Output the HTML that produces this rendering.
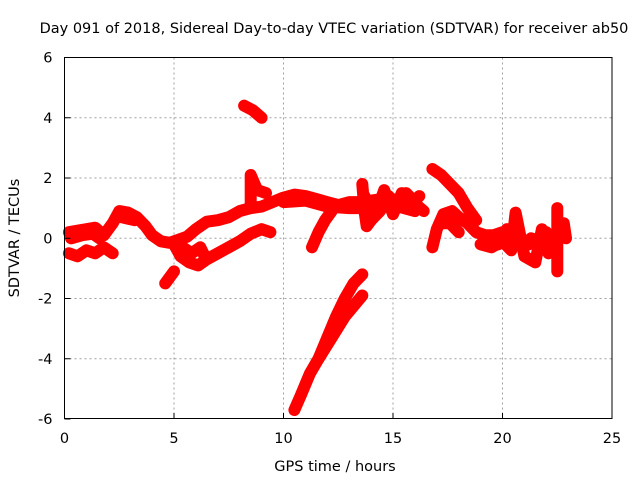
<!DOCTYPE html>
<html><head><meta charset="utf-8"><style>
html,body{margin:0;padding:0;background:#fff;}
svg{display:block;font-family:"DejaVu Sans","Liberation Sans",sans-serif;}
</style></head><body>
<svg id="chart" width="640" height="480" viewBox="0 0 640 480" xmlns="http://www.w3.org/2000/svg">
<rect width="640" height="480" fill="#fff"/>
<g id="grid"></g>
<g id="marks"></g>
<rect x="64.5" y="57.5" width="547.5" height="361" fill="none" stroke="#000" stroke-width="1"/>
<g id="ticks"></g>
<text x="334" y="33" font-size="14.5" text-anchor="middle">Day 091 of 2018, Sidereal Day-to-day VTEC variation (SDTVAR) for receiver ab50</text>
<text x="335" y="471" font-size="14.5" text-anchor="middle">GPS time / hours</text>
<text x="19" y="238" font-size="14.5" text-anchor="middle" transform="rotate(-90 19 238)">SDTVAR / TECUs</text>
</svg>
<script>
const xTicks = [0, 5, 10, 15, 20, 25];
const yTicks = [-6, -4, -2, 0, 2, 4, 6];
// tracks: each is [t0,v0,t1,v1,...] (hours, TECU)
const trackUpper = [0.2,0.2, 0.6,0.25, 1.0,0.3, 1.4,0.35, 1.8,0.1, 2.2,0.5, 2.5,0.9, 2.9,0.85, 3.3,0.7, 3.7,0.4, 4.0,0.1, 4.4,-0.1, 4.8,-0.15, 5.2,-0.05, 5.6,0.05, 6.0,0.3, 6.5,0.55, 7.0,0.6, 7.5,0.7, 8.0,0.9, 8.5,1.0, 9.0,1.05, 9.5,1.2, 10.0,1.35, 10.5,1.45, 11.0,1.4, 11.5,1.3, 12.0,1.2, 12.5,1.1, 13.0,1.2, 13.5,1.2, 14.0,1.25, 14.5,1.3, 15.0,1.3, 15.5,1.2, 16.0,1.15, 16.4,0.9];
const trackUpper2 = [0.3,0.0, 0.8,0.1, 1.3,0.15, 1.6,0.0];
const trackUpper3 = [2.6,0.7, 3.2,0.6];
const trackUpper4 = [10.0,1.2, 11.0,1.25, 12.0,1.05, 13.0,1.0, 14.0,1.0, 15.0,1.1, 16.0,0.9];
const trackLowerA = [0.2,-0.5, 0.6,-0.6, 1.0,-0.4, 1.4,-0.5, 1.8,-0.3, 2.2,-0.5];
const trackLowerB = [5.0,-0.2, 5.3,-0.6, 5.7,-0.8, 6.1,-0.9, 6.5,-0.7, 7.0,-0.5, 7.5,-0.3, 8.0,-0.1, 8.5,0.15, 9.0,0.3, 9.4,0.2];
const trackLoop = [5.4,-0.3, 5.8,-0.5, 6.2,-0.3, 6.4,-0.6];
const trackShort = [4.6,-1.5, 4.8,-1.3, 5.0,-1.1];
const trackHigh = [8.2,4.4, 8.6,4.25, 9.0,4.0];
const trackSpike = [8.5,1.0, 8.5,1.5, 8.5,2.1, 8.8,1.6, 9.2,1.5];
const trackSteep = [10.5,-5.7, 10.8,-5.2, 11.2,-4.5, 11.6,-4.0, 12.0,-3.3, 12.4,-2.6, 12.8,-2.0, 13.2,-1.5, 13.6,-1.2];
const trackSteep2 = [11.6,-4.0, 12.2,-3.3, 12.8,-2.6, 13.6,-1.9];
const trackRise = [11.3,-0.3, 11.6,0.2, 11.9,0.6, 12.2,0.9];
const trackBlob = [13.6,1.8, 13.7,0.9, 13.8,0.4, 14.2,0.8, 14.6,1.6, 15.0,0.8, 15.4,1.5, 15.8,1.1, 16.2,1.4];
const trackBlob2 = [13.7,1.4, 14.0,0.6, 14.4,0.9, 14.8,1.4, 15.2,1.0, 15.6,1.5, 16.0,1.2];
const trackArc = [16.8,2.3, 17.2,2.1, 17.6,1.8, 18.0,1.5, 18.4,1.0, 18.8,0.6];
const trackLate = [16.8,-0.3, 17.0,0.3, 17.3,0.8, 17.7,0.9, 18.0,0.7, 18.4,0.5, 18.8,0.2, 19.2,0.1, 19.6,0.1, 20.0,0.2, 20.4,0.1, 20.8,0.0, 21.2,-0.2, 21.6,0.0, 22.0,0.2, 22.4,-0.3];
const trackLate2 = [19.0,-0.2, 19.5,-0.3, 20.0,-0.1, 20.4,-0.4, 20.6,0.85, 21.0,-0.6, 21.5,-0.8, 21.8,0.3, 22.1,-0.5];
const trackLate3 = [17.2,0.5, 17.6,0.5, 18.0,0.2];
const trackLate4 = [19.8,-0.2, 20.2,0.3];
const trackLate5 = [21.3,0.0, 21.7,-0.4, 22.0,0.0];
const trackEnd = [22.5,1.0, 22.5,0.2, 22.5,-1.1];
const trackEnd2 = [22.8,0.5, 22.9,0.0];
const tracks = [trackUpper, trackUpper2, trackUpper3, trackUpper4, trackLowerA, trackLowerB, trackLoop, trackShort, trackHigh, trackSpike, trackSteep, trackSteep2, trackRise, trackBlob, trackBlob2, trackArc, trackLate, trackLate2, trackLate3, trackLate4, trackLate5, trackEnd, trackEnd2];

const NS = "http://www.w3.org/2000/svg";
const X0 = 64.5, X1 = 612, Y0 = 419, Y1 = 57.5;
function xs(t){ return X0 + (t - 0) / 25 * (X1 - X0); }
function ys(v){ return Y0 - (v + 6) / 12 * (Y0 - Y1); }

const grid = document.getElementById('grid');
const ticks = document.getElementById('ticks');
xTicks.forEach(t => {
  const x = xs(t);
  if (t > 0 && t < 25) {
    const g = document.createElementNS(NS, 'line');
    g.setAttribute('x1', x); g.setAttribute('x2', x); g.setAttribute('y1', Y1); g.setAttribute('y2', Y0);
    g.setAttribute('stroke', '#a0a0a0'); g.setAttribute('stroke-dasharray', '2,3');
    
    
    grid.appendChild(g);
  }
  const tk = document.createElementNS(NS, 'line');
  tk.setAttribute('x1', x); tk.setAttribute('x2', x); tk.setAttribute('y1', Y0); tk.setAttribute('y2', Y0 - 6);
  tk.setAttribute('stroke', '#000');
  
  
  ticks.appendChild(tk);
  const lb = document.createElementNS(NS, 'text');
  lb.setAttribute('x', x); lb.setAttribute('y', Y0 + 24); lb.setAttribute('font-size', '14.5'); lb.setAttribute('text-anchor', 'middle');
  lb.textContent = t;
  
  
  ticks.appendChild(lb);
});
yTicks.forEach(v => {
  const y = ys(v);
  if (v > -6 && v < 6) {
    const g = document.createElementNS(NS, 'line');
    g.setAttribute('x1', X0); g.setAttribute('x2', X1); g.setAttribute('y1', y); g.setAttribute('y2', y);
    g.setAttribute('stroke', '#a0a0a0'); g.setAttribute('stroke-dasharray', '2,3');
    
    
    grid.appendChild(g);
  }
  const tk = document.createElementNS(NS, 'line');
  tk.setAttribute('x1', X0); tk.setAttribute('x2', X0 + 6); tk.setAttribute('y1', y); tk.setAttribute('y2', y);
  tk.setAttribute('stroke', '#000');
  
  
  ticks.appendChild(tk);
  const lb = document.createElementNS(NS, 'text');
  lb.setAttribute('x', X0 - 12); lb.setAttribute('y', y + 5); lb.setAttribute('font-size', '14.5'); lb.setAttribute('text-anchor', 'end');
  lb.textContent = v;
  
  
  ticks.appendChild(lb);
});

const marks = document.getElementById('marks');
tracks.forEach(tr => {
  let pts = [];
  for (let i = 0; i < tr.length; i += 2) pts.push(xs(tr[i]).toFixed(1) + ',' + ys(tr[i+1]).toFixed(1));
  const pl = document.createElementNS(NS, 'polyline');
  pl.setAttribute('points', pts.join(' '));
  pl.setAttribute('fill', 'none'); pl.setAttribute('stroke', '#ff0000'); pl.setAttribute('stroke-width', '12');
  pl.setAttribute('stroke-linejoin', 'round'); pl.setAttribute('stroke-linecap', 'round');
  
  
  marks.appendChild(pl);
  for (let i = 0; i < tr.length; i += 2) {
    const x = xs(tr[i]), y = ys(tr[i+1]);
    const p = document.createElementNS(NS, 'path');
    p.setAttribute('d', `M${x-4},${y}H${x+4}M${x},${y-4}V${y+4}`);
    p.setAttribute('stroke', '#ff0000'); p.setAttribute('stroke-width', '1.5');
    
    
    marks.appendChild(p);
  }
});
</script>
</body></html>
